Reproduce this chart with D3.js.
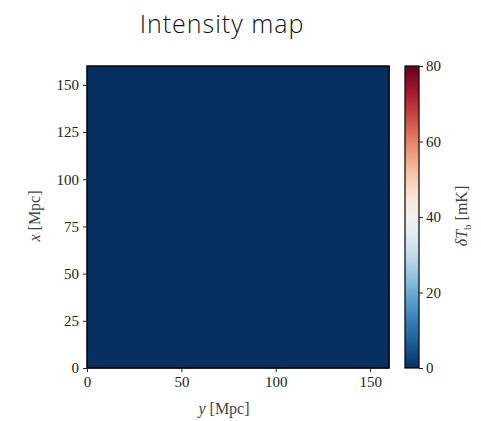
<!DOCTYPE html>
<html>
<head>
<meta charset="utf-8">
<script src="https://cdn.jsdelivr.net/npm/d3@7"></script>
<style>
  body { margin: 0; background: #fff; }
  .tick text { font-family: "Liberation Serif", "DejaVu Serif", serif; font-size: 15px; fill: #222; }
</style>
</head>
<body>
<div id="chart"></div>
<script>
// brightness temperature field (mK), all cells at zero
var field = [
    [0, 0, 0, 0],
    [0, 0, 0, 0],
    [0, 0, 0, 0],
    [0, 0, 0, 0]
];
var boxSize = 160;          // Mpc
var axisTicks = [0, 25, 50, 75, 100, 125, 150];
var xTicks = [0, 50, 100, 150];
var cbarTicks = [0, 20, 40, 60, 80];
var cbarDomain = [0, 80];

var width = 481, height = 421;
var plot = {left: 87, top: 66, size: 302};
var cbar = {left: 405, width: 14};

var svg = d3.select('#chart').append('svg')
    .attr('width', width)
    .attr('height', height);

// title
svg.append('text')
    .attr('x', 222)
    .attr('y', 33)
    .attr('text-anchor', 'middle')
    .style('font-family', '"Open Sans", "Liberation Sans", sans-serif')
    .style('font-weight', 300)
    .style('font-size', '25px')
    .style('letter-spacing', '1px')
    .attr('fill', '#111')
    .text('Intensity map');

var xScale = d3.scaleLinear().domain([0, boxSize]).range([plot.left, plot.left + plot.size]);
var yScale = d3.scaleLinear().domain([0, boxSize]).range([plot.top + plot.size, plot.top]);

var color = d3.scaleSequential(function (t) { return d3.interpolateRdBu(1 - t); })
    .domain(cbarDomain);

// heatmap cells
var n = field.length;
var cell = boxSize / n;
field.forEach(function (row, i) {
    svg.selectAll('.cell-' + i)
        .data(row)
        .enter()
        .append('rect')
        .attr('class', 'cell-' + i)
        .attr('x', function (d, j) { return xScale(j * cell); })
        .attr('y', yScale((i + 1) * cell))
        .attr('width', xScale(cell) - xScale(0) + 0.5)
        .attr('height', yScale(0) - yScale(cell) + 0.5)
        .attr('fill', function (d) { return color(d); });
});

svg.append('rect')
    .attr('x', plot.left)
    .attr('y', plot.top)
    .attr('width', plot.size)
    .attr('height', plot.size)
    .attr('fill', 'none')
    .attr('stroke', '#000')
    .attr('stroke-width', 1.5);

// axes
var xAxis = d3.axisBottom(xScale).tickValues(xTicks).tickSize(4).tickPadding(4);
var yAxis = d3.axisLeft(yScale).tickValues(axisTicks).tickSize(4).tickPadding(4);

var gx = svg.append('g')
    .attr('transform', 'translate(0,' + (plot.top + plot.size) + ')')
    .call(xAxis);
var gy = svg.append('g')
    .attr('transform', 'translate(' + plot.left + ',0)')
    .call(yAxis);
[gx, gy].forEach(function (g) {
    g.select('.domain').remove();
    g.selectAll('.tick line').attr('stroke', '#222');
});

// axis labels
var xl = svg.append('text')
    .attr('x', 224)
    .attr('y', 414)
    .attr('text-anchor', 'middle')
    .style('font-family', '"Liberation Serif", "DejaVu Serif", serif')
    .style('font-size', '16px')
    .attr('fill', '#444');
xl.append('tspan').style('font-style', 'italic').text('y');
xl.append('tspan').text(' [Mpc]');

var yl = svg.append('text')
    .attr('transform', 'translate(40,216) rotate(-90)')
    .attr('text-anchor', 'middle')
    .style('font-family', '"Liberation Serif", "DejaVu Serif", serif')
    .style('font-size', '16px')
    .attr('fill', '#444');
yl.append('tspan').style('font-style', 'italic').text('x');
yl.append('tspan').text(' [Mpc]');

// colorbar
var defs = svg.append('defs');
var grad = defs.append('linearGradient')
    .attr('id', 'cbar')
    .attr('x1', 0).attr('y1', 1).attr('x2', 0).attr('y2', 0);
d3.range(0, 1.01, 0.05).forEach(function (t) {
    grad.append('stop')
        .attr('offset', t)
        .attr('stop-color', color(cbarDomain[0] + t * (cbarDomain[1] - cbarDomain[0])));
});

var cScale = d3.scaleLinear().domain(cbarDomain).range([plot.top + plot.size, plot.top]);

svg.append('rect')
    .attr('x', cbar.left)
    .attr('y', plot.top)
    .attr('width', cbar.width)
    .attr('height', plot.size)
    .attr('fill', 'url(#cbar)')
    .attr('stroke', '#000')
    .attr('stroke-width', 1.2);

var gc = svg.append('g')
    .attr('transform', 'translate(' + (cbar.left + cbar.width) + ',0)')
    .call(d3.axisRight(cScale).tickValues(cbarTicks).tickSize(4).tickPadding(3));
gc.select('.domain').remove();
gc.selectAll('.tick line').attr('stroke', '#222');

var cl = svg.append('text')
    .attr('transform', 'translate(467,216) rotate(-90)')
    .attr('text-anchor', 'middle')
    .style('font-family', '"Liberation Serif", "DejaVu Serif", serif')
    .style('font-size', '16px')
    .attr('fill', '#444');
cl.append('tspan').style('font-style', 'italic').text('δT');
cl.append('tspan').attr('dy', 4).style('font-size', '11px').text('b');
cl.append('tspan').attr('dy', -4).text(' [mK]');
</script>
</body>
</html>
